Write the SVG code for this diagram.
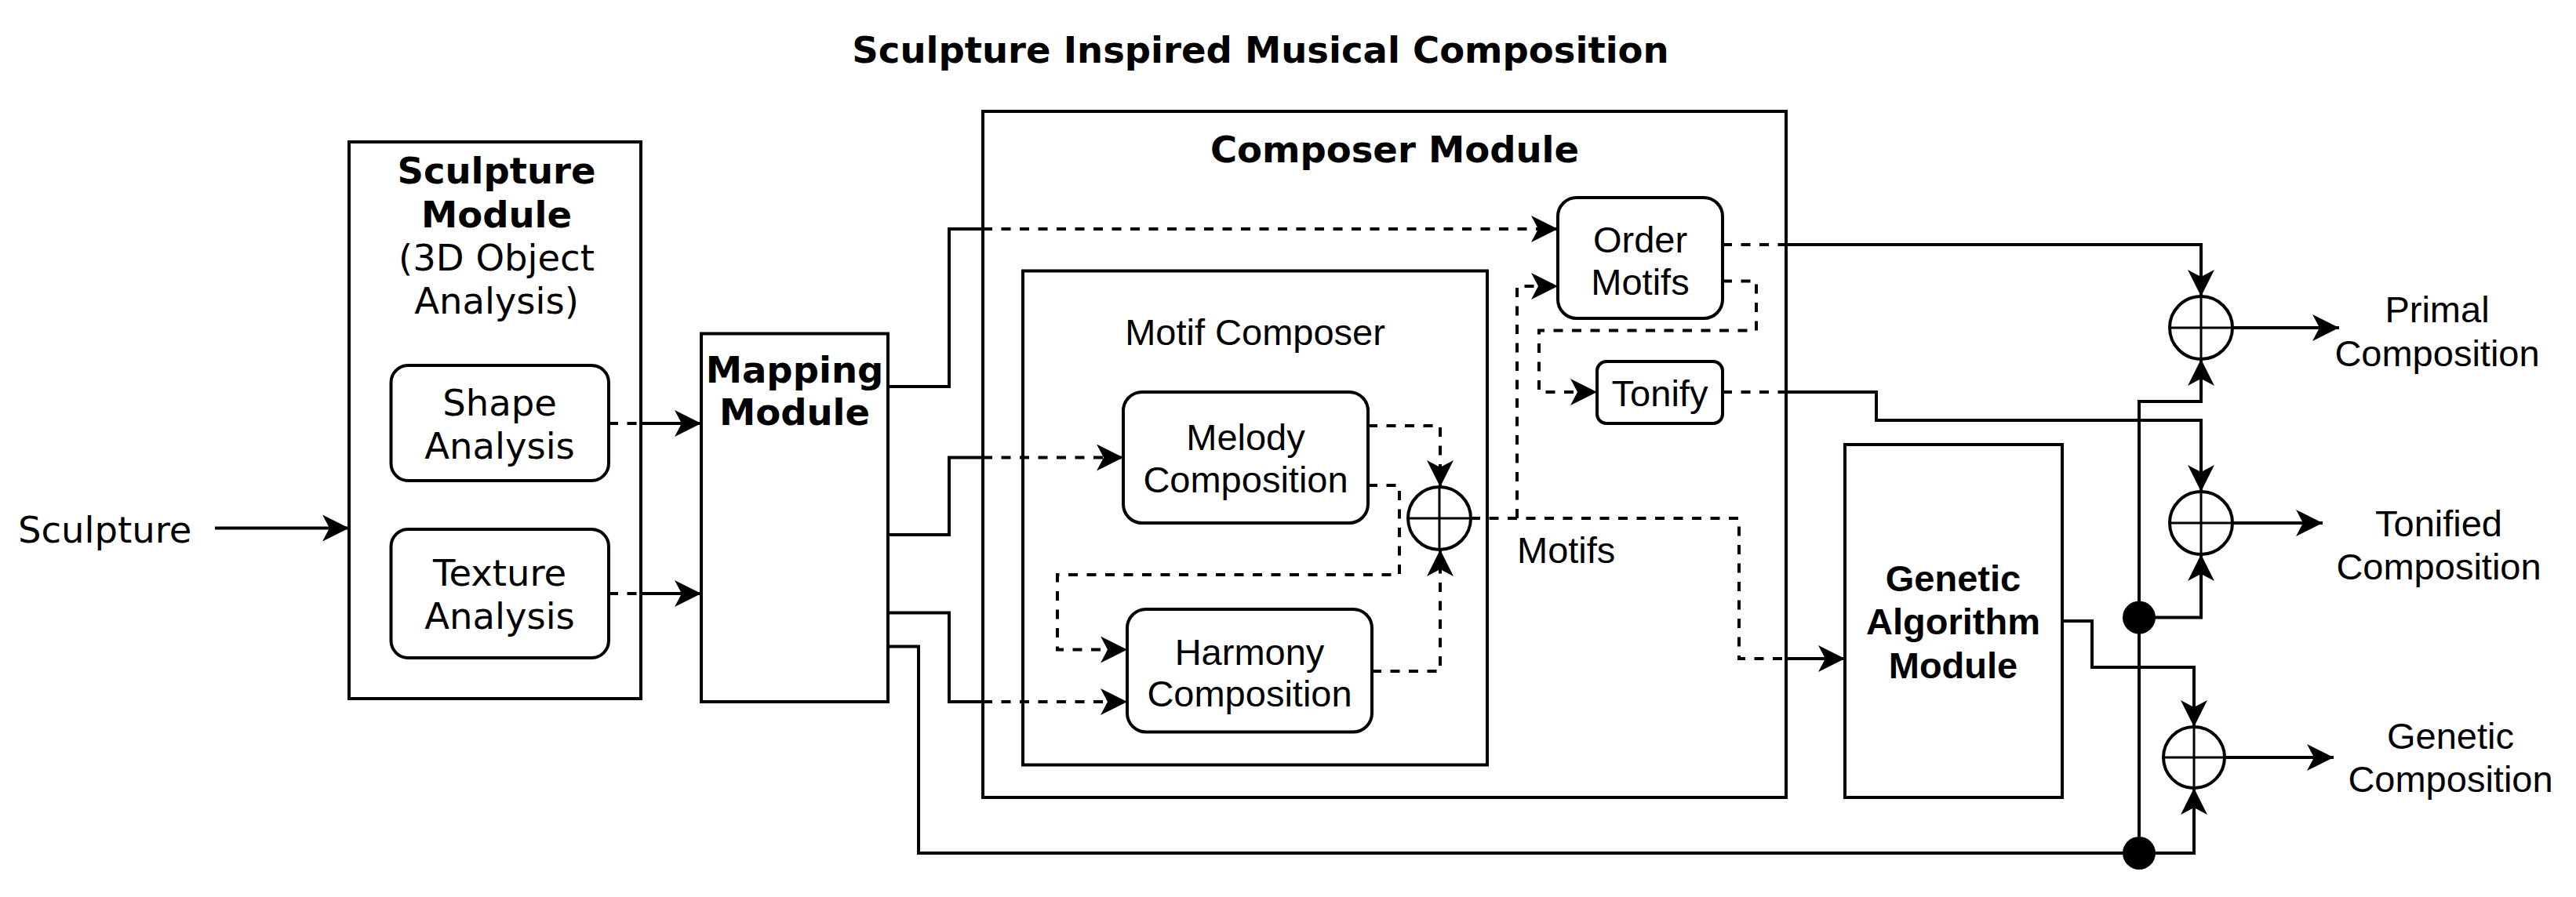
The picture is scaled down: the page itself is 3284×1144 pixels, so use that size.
<svg xmlns="http://www.w3.org/2000/svg" width="3284" height="1144" viewBox="0 0 3284 1144">
<style>
.box{fill:#fff;stroke:#000;stroke-width:4}
.dj{font-family:"DejaVu Sans",sans-serif;font-size:46.5px;fill:#000;text-anchor:middle}
.djb{font-family:"DejaVu Sans",sans-serif;font-size:46.5px;font-weight:bold;fill:#000;text-anchor:middle}
.ls{font-family:"Liberation Sans",Arial,sans-serif;font-size:47px;fill:#000;text-anchor:middle}
.lsb{font-family:"Liberation Sans",Arial,sans-serif;font-size:47px;font-weight:bold;fill:#000;text-anchor:middle}
.ln{fill:none;stroke:#000;stroke-width:4}
.dash{fill:none;stroke:#000;stroke-width:4;stroke-dasharray:12 11.5}
.sum{fill:#fff;stroke:#000;stroke-width:4}
.cross{fill:none;stroke:#000;stroke-width:3}
</style>
<defs>
<marker id="arr" markerUnits="userSpaceOnUse" markerWidth="34" markerHeight="34" viewBox="0 0 34 34" refX="34" refY="17" orient="auto">
<path d="M0,0 L34,17 L0,34 L9,17 Z" fill="#000"/>
</marker>
</defs>
<rect width="3284" height="1144" fill="#fff"/>
<text class="djb" x="1607" y="80">Sculpture Inspired Musical Composition</text>

<g id="sculpture-module">
<rect class="box" x="445" y="181" width="372" height="710"/>
<text class="djb" x="633" y="234">Sculpture</text>
<text class="djb" x="633" y="290">Module</text>
<text class="dj" x="633" y="345">(3D Object</text>
<text class="dj" x="633" y="400">Analysis)</text>
</g>
<g id="shape-analysis">
<rect class="box" x="498.5" y="466" width="277.5" height="147" rx="22"/>
<text class="dj" x="637" y="530">Shape</text>
<text class="dj" x="637" y="585">Analysis</text>
</g>
<g id="texture-analysis">
<rect class="box" x="498.5" y="675" width="277.5" height="164" rx="22"/>
<text class="dj" x="637" y="747">Texture</text>
<text class="dj" x="637" y="802">Analysis</text>
</g>
<g id="sculpture-input">
<text class="dj" x="23" y="692" style="text-anchor:start">Sculpture</text>
</g>
<g id="mapping-module">
<rect class="box" x="894" y="425.5" width="238" height="469.5"/>
<text class="djb" x="1013" y="488">Mapping</text>
<text class="djb" x="1013" y="542">Module</text>
</g>
<g id="composer-module">
<rect class="box" x="1253" y="142" width="1024" height="875"/>
<text class="djb" x="1778" y="207">Composer Module</text>
</g>
<g id="motif-composer">
<rect class="box" x="1304" y="345.5" width="592" height="630"/>
<text class="ls" x="1600" y="440">Motif Composer</text>
</g>
<g id="melody-composition">
<rect class="box" x="1432" y="500" width="312" height="167" rx="24"/>
<text class="ls" x="1588" y="574">Melody</text>
<text class="ls" x="1588" y="628">Composition</text>
</g>
<g id="harmony-composition">
<rect class="box" x="1437" y="777" width="312" height="156.5" rx="24"/>
<text class="ls" x="1593" y="847.5">Harmony</text>
<text class="ls" x="1593" y="901">Composition</text>
</g>
<g id="order-motifs">
<rect class="box" x="1986" y="252" width="210" height="154" rx="24"/>
<text class="ls" x="2091" y="322">Order</text>
<text class="ls" x="2091" y="376">Motifs</text>
</g>
<g id="tonify">
<rect class="box" x="2036" y="461" width="160" height="79" rx="12"/>
<text class="ls" x="2116" y="517.5">Tonify</text>
</g>
<g id="genetic-algorithm-module">
<rect class="box" x="2352" y="567" width="277" height="450"/>
<text class="lsb" x="2490" y="754">Genetic</text>
<text class="lsb" x="2490" y="809">Algorithm</text>
<text class="lsb" x="2490" y="865">Module</text>
</g>

<g id="connectors">
<path class="ln" d="M274,673.5 H445" marker-end="url(#arr)"/>
<path class="dash" d="M776,540 H817"/>
<path class="ln" d="M817,540 H894" marker-end="url(#arr)"/>
<path class="dash" d="M776,757 H817"/>
<path class="ln" d="M817,757 H894" marker-end="url(#arr)"/>
<path class="ln" d="M1132,493 H1210 V292 H1253"/>
<path class="dash" d="M1253,292 H1986" marker-end="url(#arr)"/>
<path class="ln" d="M1132,682 H1210 V583.5 H1253"/>
<path class="dash" d="M1253,583.5 H1432" marker-end="url(#arr)"/>
<path class="ln" d="M1132,781.5 H1210 V895 H1253"/>
<path class="dash" d="M1253,895 H1437" marker-end="url(#arr)"/>
<path class="ln" d="M1132,824.5 H1171 V1088 H2797 V1005" marker-end="url(#arr)"/>
<path class="dash" d="M1744,543 H1836 V621" marker-end="url(#arr)"/>
<path class="dash" d="M1744,619 H1784 V733 H1348 V828.5 H1437" marker-end="url(#arr)"/>
<path class="dash" d="M1749,856 H1836 V701" marker-end="url(#arr)"/>
<path class="dash" d="M1875,661 H2217 V840 H2277"/>
<path class="ln" d="M2277,840 H2352" marker-end="url(#arr)"/>
<path class="dash" d="M1934,661 V365 H1986" marker-end="url(#arr)"/>
<path class="dash" d="M2196,312 H2277"/>
<path class="ln" d="M2277,312 H2806 V378" marker-end="url(#arr)"/>
<path class="dash" d="M2196,358.5 H2239 V421.5 H1962 V500 H2036" marker-end="url(#arr)"/>
<path class="dash" d="M2196,500 H2277"/>
<path class="ln" d="M2277,500 H2392 V536 H2806 V627" marker-end="url(#arr)"/>
<path class="ln" d="M2629,792 H2667 V851 H2797 V927" marker-end="url(#arr)"/>
<path class="ln" d="M2727,1088 V512 H2806 V458" marker-end="url(#arr)"/>
<path class="ln" d="M2727,787.5 H2806 V707" marker-end="url(#arr)"/>
<path class="ln" d="M2846,418 H2982" marker-end="url(#arr)"/>
<path class="ln" d="M2846,667 H2961" marker-end="url(#arr)"/>
<path class="ln" d="M2836,966 H2975" marker-end="url(#arr)"/>
<circle cx="2727" cy="787.5" r="21" fill="#000"/>
<circle cx="2727" cy="1088" r="21" fill="#000"/>
<text class="ls" x="1934" y="718" style="text-anchor:start">Motifs</text>
</g>

<g id="sum-motifs">
<circle class="sum" cx="1835" cy="661" r="40"/>
<path class="cross" d="M1795,661 H1875 M1835,621 V701"/>
</g>
<g id="sum-primal">
<circle class="sum" cx="2806" cy="418" r="40"/>
<path class="cross" d="M2766,418 H2846 M2806,378 V458"/>
</g>
<g id="sum-tonified">
<circle class="sum" cx="2806" cy="667" r="40"/>
<path class="cross" d="M2766,667 H2846 M2806,627 V707"/>
</g>
<g id="sum-genetic">
<circle class="sum" cx="2797" cy="966" r="39"/>
<path class="cross" d="M2758,966 H2836 M2797,927 V1005"/>
</g>

<g id="primal-composition">
<text class="ls" x="3107" y="411">Primal</text>
<text class="ls" x="3107" y="467">Composition</text>
</g>
<g id="tonified-composition">
<text class="ls" x="3109" y="684">Tonified</text>
<text class="ls" x="3109" y="738.5">Composition</text>
</g>
<g id="genetic-composition">
<text class="ls" x="3124" y="955">Genetic</text>
<text class="ls" x="3124" y="1010">Composition</text>
</g>
</svg>
